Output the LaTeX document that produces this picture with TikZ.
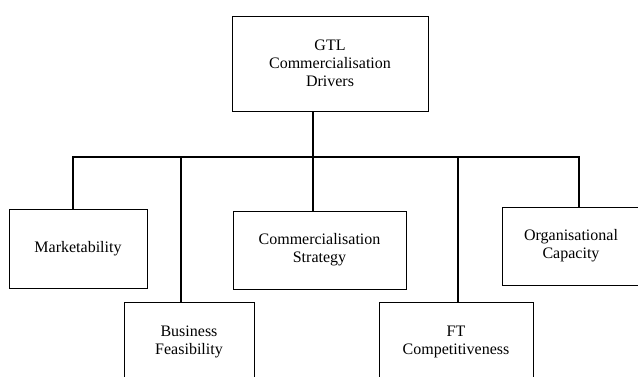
\documentclass[tikz,border=0pt]{standalone}
\usepackage{fontspec}
\setmainfont{Liberation Serif}
\begin{document}
\begin{tikzpicture}
[
x = 0.75pt, y = -0.75pt,
driver/.style = {rectangle, draw, line width = 0.6pt, align = center, font = \fontsize{12}{13.5}\selectfont, inner sep = 2pt},
    link/.style = {line width = 1.3pt}
]
    \clip (0,0) rectangle (638,376);

    \node[driver, minimum width = 147pt, minimum height = 71.25pt] (gtl) at (330,63.5) {GTL\\Commercialisation\\Drivers};
    \node[driver, minimum width = 103.5pt, minimum height = 59.25pt] (mkt) at (78,248.5) {Marketability};
    \node[driver, minimum width = 97.5pt, minimum height = 59.25pt] (bus) at (189,341.5) {Business\\Feasibility};
    \node[driver, minimum width = 129.75pt, minimum height = 58.5pt] (str) at (319.5,250) {Commercialisation\\Strategy};
    \node[driver, minimum width = 115.5pt, minimum height = 59.25pt] (ft) at (456,341.5) {FT\\Competitiveness};
    \node[driver, minimum width = 103.5pt, minimum height = 58.5pt] (org) at (571,246) {Organisational\\Capacity};

    \coordinate (jm) at (73,157);
    \coordinate (jb) at (181,157);
    \coordinate (js) at (313,157);
    \coordinate (jf) at (458,157);
    \coordinate (jo) at (579,157);

    \draw[link] (gtl.south -| js) -- (js);
    \draw[link] (jm |- mkt.north) -- (jm) -- (jo) -- (jo |- org.north);
    \draw[link] (jb) -- (jb |- bus.north);
    \draw[link] (js) -- (js |- str.north);
    \draw[link] (jf) -- (jf |- ft.north);
\end{tikzpicture}
\end{document}
